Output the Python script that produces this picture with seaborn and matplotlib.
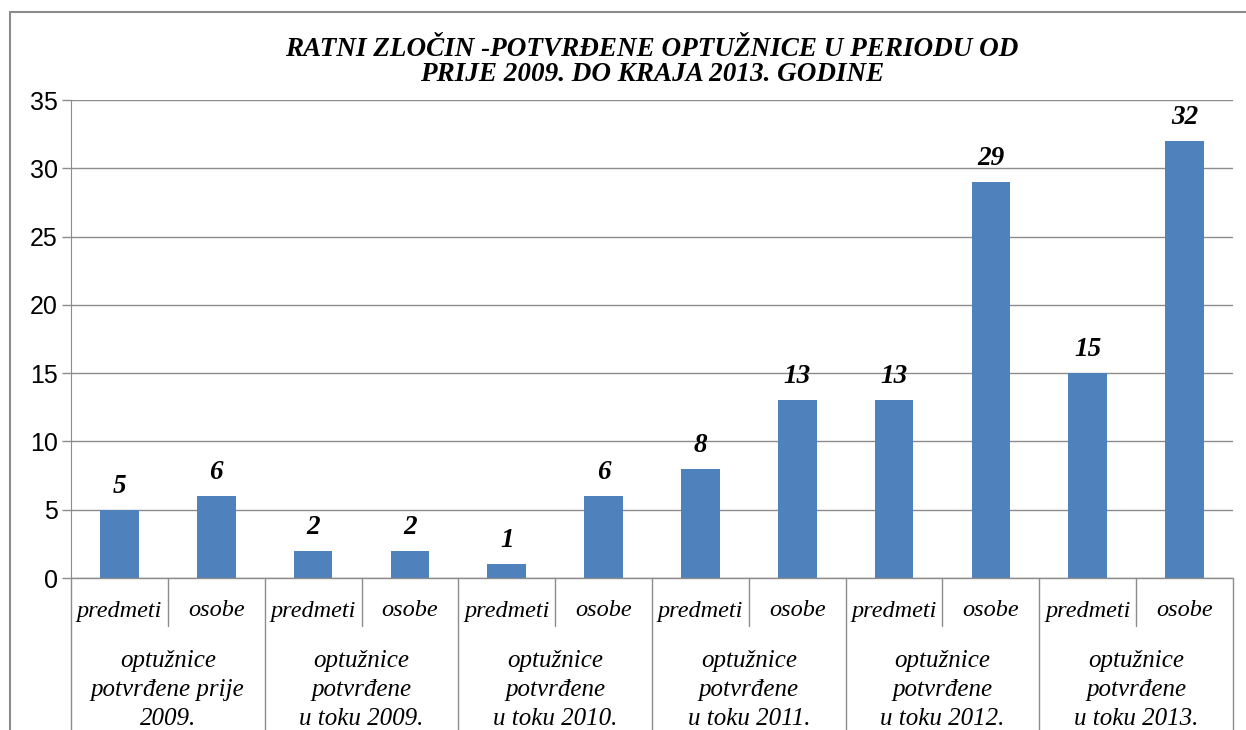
import pandas as pd
import matplotlib.pyplot as plt
import seaborn as sns
from matplotlib.lines import Line2D
from matplotlib.transforms import blended_transform_factory

# podaci sa grafikona
grupe = ['optužnice\npotvrđene prije\n2009.',
         'optužnice\npotvrđene\nu toku 2009.',
         'optužnice\npotvrđene\nu toku 2010.',
         'optužnice\npotvrđene\nu toku 2011.',
         'optužnice\npotvrđene\nu toku 2012.',
         'optužnice\npotvrđene\nu toku 2013.']
vrste = ['predmeti', 'osobe']
predmeti = [5, 2, 1, 8, 13, 15]
osobe = [6, 2, 6, 13, 29, 32]
y_ticks = [0, 5, 10, 15, 20, 25, 30, 35]

redovi = []
for i, g in enumerate(grupe):
    redovi.append({'kategorija': f'{i}-predmeti', 'grupa': g, 'vrsta': 'predmeti', 'vrijednost': predmeti[i]})
    redovi.append({'kategorija': f'{i}-osobe', 'grupa': g, 'vrsta': 'osobe', 'vrijednost': osobe[i]})
df = pd.DataFrame(redovi)

sns.set_style('white')
plt.rcParams['text.color'] = 'black'
plt.rcParams['ytick.labelcolor'] = 'black'
serif = ['Liberation Serif', 'DejaVu Serif']
siva = '#8c8c8c'

fig = plt.figure(figsize=(12.46, 7.30), dpi=100)
ax = fig.add_axes([71 / 1246, 1 - 578 / 730, (1233 - 71) / 1246, (578 - 100) / 730])

sns.barplot(data=df, x='kategorija', y='vrijednost', color='#4F81BD', width=0.4,
            saturation=1, ax=ax, errorbar=None, linewidth=0)

ax.set_xlim(-0.5, len(df) - 0.5)
ax.set_ylim(0, 35)
ax.set_yticks(y_ticks)
ax.set_yticklabels([str(t) for t in y_ticks], fontfamily=['Liberation Sans', 'DejaVu Sans'], fontsize=18)
ax.tick_params(axis='y', length=6.5, width=1, color=siva, pad=3, left=True)
ax.tick_params(axis='x', bottom=False, labelbottom=False)
ax.set_xlabel('')
ax.set_ylabel('')
ax.grid(axis='y', color=siva, linewidth=1)
ax.set_axisbelow(True)
for s in ['top', 'right', 'bottom']:
    ax.spines[s].set_visible(False)
ax.spines['left'].set_color(siva)

# oznake vrijednosti
for i, v in enumerate(df['vrijednost']):
    ax.annotate(str(v), (i, v), xytext=(0, 8), textcoords='offset points', ha='center', va='bottom',
                fontsize=19.5, fontweight='bold', fontstyle='italic', family=serif)

# dvorazinska os kategorija
tr = blended_transform_factory(ax.transData, ax.transAxes)
dno = -(730 - 578) / 478
ax.plot([-0.5, len(df) - 0.5], [0, 0], transform=tr, color=siva, lw=1, clip_on=False)
for k in range(len(grupe) + 1):
    ax.plot([2 * k - 0.5] * 2, [0, dno], transform=tr, color=siva, lw=1, clip_on=False)
for k in range(len(grupe)):
    ax.plot([2 * k + 0.5] * 2, [0, -48 / 478], transform=tr, color=siva, lw=1, clip_on=False)

for i, v in enumerate(df['vrsta']):
    ax.text(i, -33 / 478, v, transform=tr, ha='center', va='center', fontsize=17.5,
            fontstyle='italic', family=serif)
for k, g in enumerate(grupe):
    ax.text(2 * k + 0.5, -72 / 478, g, transform=tr, ha='center', va='top', fontsize=18,
            fontstyle='italic', family=serif, linespacing=1.42)

# naslov
ax.text(0.5, 1 + 13 / 478, 'RATNI ZLOČIN -POTVRĐENE OPTUŽNICE U PERIODU OD\nPRIJE 2009. DO KRAJA 2013. GODINE',
        transform=ax.transAxes, ha='center', va='bottom', fontsize=19.5, fontweight='bold',
        fontstyle='italic', family=serif, linespacing=1.0)

# okvir grafikona
fig.add_artist(Line2D([10 / 1246, 10 / 1246], [1 - 12 / 730, 0], color=siva, lw=1.5))
fig.add_artist(Line2D([10 / 1246, 1], [1 - 12 / 730, 1 - 12 / 730], color=siva, lw=1.5))

fig.savefig('out.png', dpi=100)
